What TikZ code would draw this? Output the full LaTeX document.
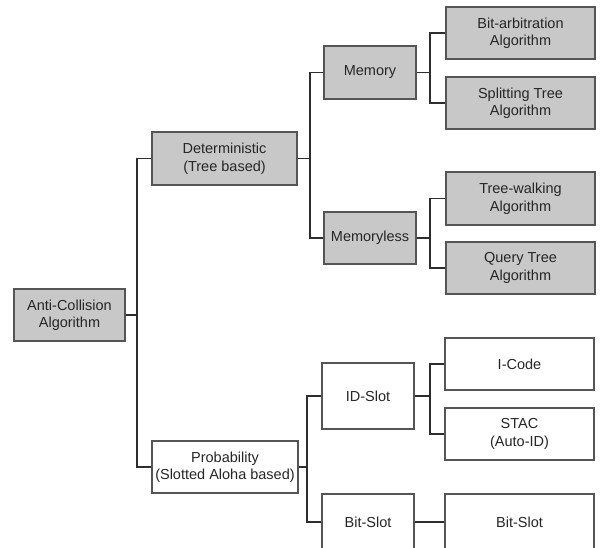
\documentclass[tikz,border=0pt]{standalone}
\usepackage{fontspec}
\setmainfont{Liberation Sans}
\usepackage{xcolor}
\usepackage{tikz}
\usetikzlibrary{calc}
\definecolor{boxgray}{RGB}{200,200,200}
\definecolor{edgegray}{RGB}{85,85,85}
\definecolor{linkgray}{RGB}{45,45,45}
\begin{document}
\begin{tikzpicture}[
    x=1pt, y=-1pt,
    every node/.style={font=\fontsize{14.5}{17.5}\selectfont, text=black!85},
    grybox/.style={draw=edgegray, line width=1.3pt, fill=boxgray, align=center, inner sep=0pt},
    whtbox/.style={draw=edgegray, line width=1.3pt, fill=white, align=center, inner sep=0pt},
    link/.style={draw=linkgray, line width=1.8pt}
]
\useasboundingbox (0,0) rectangle (600,547);
\node[grybox, minimum width=111pt, minimum height=52pt] (acoll) at (69.5,315) {Anti-Collision\\Algorithm};
\node[grybox, minimum width=145pt, minimum height=53pt] (determ) at (224.5,158.5) {Deterministic\\(Tree based)};
\node[whtbox, minimum width=146pt, minimum height=52pt] (prob) at (225,467) {Probability\\(Slotted Aloha based)};
\node[grybox, minimum width=92pt, minimum height=53pt] (memory) at (370,72.5) {Memory};
\node[grybox, minimum width=92pt, minimum height=52pt] (memless) at (370,238) {Memoryless};
\node[whtbox, minimum width=92pt, minimum height=66pt] (idslot) at (368,396) {ID-Slot};
\node[whtbox, minimum width=92pt, minimum height=56pt] (bitmid) at (368,522) {Bit-Slot};
\node[grybox, minimum width=149pt, minimum height=52pt] (bitarb) at (520.5,33) {Bit-arbitration\\Algorithm};
\node[grybox, minimum width=149pt, minimum height=52pt] (split) at (520.5,103) {Splitting Tree\\Algorithm};
\node[grybox, minimum width=149pt, minimum height=53pt] (walk) at (520.5,198.5) {Tree-walking\\Algorithm};
\node[grybox, minimum width=149pt, minimum height=52pt] (query) at (520.5,268) {Query Tree\\Algorithm};
\node[whtbox, minimum width=149pt, minimum height=52pt] (icode) at (519.5,364) {I-Code};
\node[whtbox, minimum width=149pt, minimum height=52pt] (stac) at (519.5,434) {STAC\\(Auto-ID)};
\node[whtbox, minimum width=149pt, minimum height=56pt] (bitend) at (519.5,522) {Bit-Slot};
\coordinate (busA) at (137,0);
\coordinate (busB) at (310,0);
\coordinate (busC) at (307,0);
\coordinate (busD) at (430,0);
\draw[link] (acoll.east) -- (acoll.east -| busA);
\draw[link] (determ.west) -| (busA |- prob.west) -- (prob.west);
\draw[link] (determ.east) -- (determ.east -| busB);
\draw[link] (memory.west) -| (busB |- memless.west) -- (memless.west);
\draw[link] (prob.east) -- (prob.east -| busC);
\draw[link] (idslot.west) -| (busC |- bitmid.west) -- (bitmid.west);
\draw[link] (memory.east) -- (memory.east -| busD);
\draw[link] (bitarb.west) -| (busD |- split.west) -- (split.west);
\draw[link] (memless.east) -- (memless.east -| busD);
\draw[link] (walk.west) -| (busD |- query.west) -- (query.west);
\draw[link] (idslot.east) -- (idslot.east -| busD);
\draw[link] (icode.west) -| (busD |- stac.west) -- (stac.west);
\draw[link] (bitmid.east) -- (bitend.west);
\end{tikzpicture}
\end{document}
